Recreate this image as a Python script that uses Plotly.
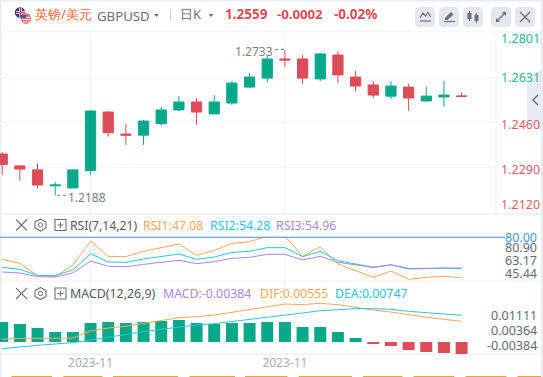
import plotly.graph_objects as go

W, H = 543, 377

dates = ["2023-10-25","2023-10-26","2023-10-27","2023-10-30","2023-10-31","2023-11-01","2023-11-02","2023-11-03","2023-11-06",
         "2023-11-07","2023-11-08","2023-11-09","2023-11-10","2023-11-13","2023-11-14","2023-11-15","2023-11-16","2023-11-17",
         "2023-11-20","2023-11-21","2023-11-22","2023-11-23","2023-11-24","2023-11-27","2023-11-28","2023-11-29","2023-11-30"]
opens  = [1.2342,1.2297,1.2282,1.2222,1.2214,1.2279,1.2500,1.2417,1.2413,1.2456,1.2508,1.2538,1.2493,1.2534,1.2594,1.2628,1.2700,1.2700,1.2625,1.2715,1.2632,1.2602,1.2560,1.2594,1.2542,1.2557,1.2561]
highs  = [1.2349,1.2300,1.2307,1.2236,1.2284,1.2508,1.2504,1.2455,1.2470,1.2519,1.2560,1.2553,1.2564,1.2617,1.2647,1.2715,1.2735,1.2715,1.2723,1.2730,1.2655,1.2617,1.2617,1.2606,1.2595,1.2617,1.2575]
lows   = [1.2263,1.2240,1.2213,1.2186,1.2214,1.2263,1.2407,1.2376,1.2376,1.2449,1.2504,1.2451,1.2493,1.2527,1.2590,1.2613,1.2670,1.2606,1.2617,1.2610,1.2579,1.2553,1.2549,1.2504,1.2538,1.2519,1.2557]
closes = [1.2302,1.2285,1.2225,1.2225,1.2282,1.2504,1.2422,1.2413,1.2466,1.2508,1.2538,1.2500,1.2538,1.2609,1.2632,1.2700,1.2696,1.2628,1.2719,1.2640,1.2598,1.2564,1.2598,1.2553,1.2560,1.2564,1.2559]

rsi1 = [61.95,58.71,48.72,47.91,57.36,76.80,64.38,64.11,68.43,71.67,74.37,65.19,69.24,74.91,76.26,80.85,80.85,64.38,72.21,58.17,52.50,47.37,52.50,45.75,47.37,48.18,47.08]
rsi2 = [55.47,53.85,48.99,48.99,53.31,66.54,59.79,59.52,62.22,64.11,66.27,61.95,63.84,67.62,68.43,71.40,71.40,64.11,68.43,60.87,58.17,55.47,57.63,54.12,54.39,54.93,54.28]
rsi3 = [51.69,50.88,47.91,47.64,50.88,60.60,56.28,56.01,57.90,59.52,61.14,58.44,60.06,62.76,63.57,66.00,66.00,61.41,64.38,59.52,57.63,55.47,57.36,54.66,54.66,54.93,54.96]

macd = [.0064,.00576,.00448,.0032,.0032,.00608,.0064,.00608,.0064,.00672,.00704,.00608,.00576,.00608,.00608,.0064,.0064,.0048,.0048,.0032,.00128,-.00064,-.00128,-.00256,-.0032,-.00352,-.00384]
dif  = [.00085,.00117,.00117,.00117,.00128,.00352,.00448,.00501,.00597,.00683,.00779,.00811,.00864,.0095,.01046,.01142,.01216,.01195,.01238,.01195,.01099,.01024,.0096,.00864,.0079,.00726,.00662]
dea  = [-.00213,-.00149,-.00107,-.00064,-.00021,.00064,.0016,.00256,.00331,.00405,.0048,.00544,.00587,.00651,.00726,.0079,.00864,.00928,.01003,.01046,.01067,.01067,.01046,.00982,.00939,.00896,.00854]

date_ticks = ["2023-11-01", "2023-11-16"]
date_tick_text = ["2023-11", "2023-11"]
price_grid = [1.2631, 1.2460, 1.2290]
price_labels = ["1.2801", "1.2631", "1.2460", "1.2290", "1.2120"]
rsi_labels = ["80.90", "63.17", "45.44"]
macd_labels = ["0.01111", "0.00364", "-0.00384"]

G, R = "#0aa88a", "#dc4d5a"
GRID = "#f3f4f8"
ICON = "#6b7080"
OR, CY, PU = "#f7a85e", "#2fc3dc", "#a788e8"
FONT = "Noto Sans, Open Sans, sans-serif"
XR = [-0.1245, 27.946]


def fx(x): return x / W
def fy(y): return 1 - y / H


fig = go.Figure()
fig.add_trace(go.Candlestick(x=dates, open=opens, high=highs, low=lows, close=closes, xaxis="x", yaxis="y",
                             whiskerwidth=0,
                             increasing=dict(line=dict(color=G, width=1), fillcolor=G),
                             decreasing=dict(line=dict(color=R, width=1), fillcolor=R)))
for vals, c in [(rsi1, OR), (rsi2, CY), (rsi3, PU)]:
    fig.add_trace(go.Scatter(x=dates, y=vals, mode="lines", line=dict(color=c, width=1), xaxis="x2", yaxis="y2"))
fig.add_trace(go.Bar(x=dates, y=macd, width=0.68, marker=dict(color=[G if v >= 0 else R for v in macd], line=dict(width=0)),
                     xaxis="x3", yaxis="y3"))
fig.add_trace(go.Scatter(x=dates, y=dif, mode="lines", line=dict(color=OR, width=1), xaxis="x3", yaxis="y3"))
fig.add_trace(go.Scatter(x=dates, y=dea, mode="lines", line=dict(color=CY, width=1), xaxis="x3", yaxis="y3"))

shapes = []


def rect(x0, y0, x1, y1, c):
    shapes.append(dict(type="rect", xref="paper", yref="paper", x0=fx(x0), x1=fx(x1), y0=fy(y0), y1=fy(y1),
                       fillcolor=c, line=dict(width=0), layer="below"))


def line(x0, y0, x1, y1, c, w=1, dash=None, layer="above"):
    shapes.append(dict(type="line", xref="paper", yref="paper", x0=fx(x0), x1=fx(x1), y0=fy(y0), y1=fy(y1),
                       line=dict(color=c, width=w, dash=dash or "solid"), layer=layer))


def path(pts, fill=None, lc=None, w=1, close=True, layer="above"):
    d = "M" + " L".join(f"{fx(x):.5f},{fy(y):.5f}" for x, y in pts) + (" Z" if close else "")
    shapes.append(dict(type="path", xref="paper", yref="paper", path=d, fillcolor=fill or "rgba(0,0,0,0)",
                       line=dict(color=lc or "rgba(0,0,0,0)", width=w), layer=layer))


def circle(cx, cy, r, fill):
    shapes.append(dict(type="circle", xref="paper", yref="paper", x0=fx(cx - r), x1=fx(cx + r), y0=fy(cy - r), y1=fy(cy + r),
                       fillcolor=fill, line=dict(width=0)))


def round_btn(x0, y0, x1, y1, r, c):
    p = (f"M{fx(x0+r):.5f},{fy(y0):.5f} L{fx(x1-r):.5f},{fy(y0):.5f} Q{fx(x1):.5f},{fy(y0):.5f} {fx(x1):.5f},{fy(y0+r):.5f} "
         f"L{fx(x1):.5f},{fy(y1-r):.5f} Q{fx(x1):.5f},{fy(y1):.5f} {fx(x1-r):.5f},{fy(y1):.5f} "
         f"L{fx(x0+r):.5f},{fy(y1):.5f} Q{fx(x0):.5f},{fy(y1):.5f} {fx(x0):.5f},{fy(y1-r):.5f} "
         f"L{fx(x0):.5f},{fy(y0+r):.5f} Q{fx(x0):.5f},{fy(y0):.5f} {fx(x0+r):.5f},{fy(y0):.5f} Z")
    shapes.append(dict(type="path", xref="paper", yref="paper", path=p, fillcolor=c, line=dict(width=0)))


# frame and separators
rect(0, 0, 1.5, H, "#e8ecf5")
rect(541, 0, W, H, "#e8ecf5")
rect(0, 0, W, 1.5, "#e8ecf5")
rect(0, 31, 541, 32.5, "#f3f5fa")
rect(0, 213.5, 541, 215, "#eef0f5")
rect(0, 280.5, 541, 281.5, "#eef0f5")
rect(0, 353.5, 541, 355, "#eef0f5")
rect(495.5, 32, 496.5, 214, "#f0f2f7")
# collapse tab
path([(527, 85), (541, 69), (541, 131), (527, 119)], fill="#e9eaf2", layer="below")
path([(538, 95), (533, 100), (538, 105)], lc=ICON, w=1.5, close=False)
# 80 level
shapes.append(dict(type="line", xref="paper", yref="y2", x0=0, x1=fx(505), y0=80, y1=80, line=dict(color="#4a90d9", width=1.3)))
# extreme markers
line(275, 49.5, 285, 49.5, "#7a7f8c", 1, "dot")
line(57, 195.3, 66, 195.3, "#7a7f8c", 1, "dot")
# bottom strip
for a, b in [(11.4, 52), (63.4, 102.5), (113, 178), (189.5, 235), (245, 287.5), (298.6, 352), (363, 402.5), (413.6, 454.4), (465.5, 506.4), (517.5, 541)]:
    rect(a, 376, b, 377, "#e0a83c")

# flags
circle(20, 12.5, 5.2, "#2f3f85")
line(16, 12.5, 25, 12.5, "#ffffff", 2.5)
line(20.5, 8, 20.5, 17.5, "#ffffff", 2.5)
line(16, 12.5, 25, 12.5, "#d8344a", 1.2)
line(20.5, 8, 20.5, 17.5, "#d8344a", 1.2)
circle(26, 18.5, 5.2, "#e7667a")
line(22, 17.2, 31, 17.2, "#ffffff", 0.8)
line(21.5, 19.5, 30.8, 19.5, "#ffffff", 0.8)
line(22.5, 21.8, 29.5, 21.8, "#ffffff", 0.8)
path([(21, 15), (26, 15), (26, 18), (21, 18)], fill="#4d5a96")

# header carets + divider
path([(154, 14), (159, 14), (156.5, 17)], fill=ICON)
path([(208.5, 14), (213.5, 14), (211, 17)], fill=ICON)
line(170.5, 9, 170.5, 21.5, "#cfd3dd", 1)

# icon buttons
for a in (415, 439, 463, 491, 515):
    round_btn(a, 7, a + 20, 27, 4, "#e4e7f0")
path([(420, 18), (423, 13), (425.5, 16), (428, 12.5), (430.5, 17)], lc=ICON, w=1.2, close=False)
line(420, 21, 431, 21, ICON, 1.2)
path([(445, 18), (451, 12), (453.5, 14.5), (447.5, 20), (445, 20)], fill=ICON)
line(444, 21.5, 455, 21.5, ICON, 1.2)
line(469.5, 11, 469.5, 21, ICON, 1)
path([(467.5, 13), (471.5, 13), (471.5, 19), (467.5, 19)], fill=ICON)
line(476.5, 13, 476.5, 23, ICON, 1)
path([(474.5, 15), (478.5, 15), (478.5, 21), (474.5, 21)], fill=ICON)
line(497, 21, 505, 13, ICON, 1.2)
path([(502, 12), (506, 12), (506, 16)], fill=ICON)
path([(496, 18), (496, 22), (500, 22)], fill=ICON)
line(520, 12, 530, 22, ICON, 1.2)
line(530, 12, 520, 22, ICON, 1.2)


# pane controls
def controls(y):
    line(16, y - 5.5, 27, y + 5.5, ICON, 1.1)
    line(27, y - 5.5, 16, y + 5.5, ICON, 1.1)
    path([(40.5, y - 6), (46, y - 3), (46, y + 3), (40.5, y + 6), (35, y + 3), (35, y - 3)], lc=ICON, w=1.1)
    shapes.append(dict(type="circle", xref="paper", yref="paper", x0=fx(38.3), x1=fx(42.7), y0=fy(y - 2.2), y1=fy(y + 2.2),
                       line=dict(color=ICON, width=1)))
    path([(55, y - 5.5), (66, y - 5.5), (66, y + 5.5), (55, y + 5.5)], lc=ICON, w=1.1)
    line(57.5, y, 63.5, y, ICON, 1)
    line(60.5, y - 3, 60.5, y + 3, ICON, 1)


controls(225)
controls(293.5)

ann = []


def T(x, y, s, c, size=12, anchor="left", bold=False):
    ann.append(dict(xref="paper", yref="paper", x=fx(x), y=fy(y), text=f"<b>{s}</b>" if bold else s, showarrow=False,
                    xanchor=anchor, yanchor="middle", align=anchor, font=dict(color=c, size=size, family=FONT), borderpad=0, borderwidth=0))


T(35, 14, "英镑/美元", "#f4693c", 13)
T(97, 15.5, "GBPUSD", ICON, 13.2)
T(180, 14, "日K", ICON, 13)
T(225, 14, "1.2559", R, 13.5, bold=True)
T(277, 14, "-0.0002", R, 13.2, bold=True)
T(334, 14, "-0.02%", R, 13.5, bold=True)
T(235, 51, "1.2733", "#7a7f8c", 12)
T(68, 197.7, "1.2188", "#7a7f8c", 12)
for s, y, c in zip(price_labels, [39, 78, 124.6, 169, 204], ["#26b89a", "#26b89a", "#e0606c", "#e0606c", "#e0606c"]):
    T(501, y, s, c, 12.5)
T(70, 225, "RSI(7,14,21)", "#555a68", 12.2)
T(143, 225, "RSI1:47.08", OR, 12.3)
T(210, 225, "RSI2:54.28", CY, 12.3)
T(276, 225, "RSI3:54.96", PU, 12.3)
T(537, 237.5, "80.00", "#3f9bf0", 12.5, "right")
for s, y in zip(rsi_labels, [247, 260.5, 273]):
    T(537, y, s, "#666c7a", 12.5, "right")
T(70, 293.5, "MACD(12,26,9)", "#555a68", 12.4)
T(163, 293.5, "MACD:-0.00384", PU, 12.3)
T(260, 293.5, "DIF:0.00555", OR, 12.3)
T(334.5, 293.5, "DEA:0.00747", CY, 12.3)
for s, y in zip(macd_labels, [315, 330.5, 345.5]):
    T(537, y, s, "#666c7a", 12.5, "right")

xbase = dict(type="category", categoryorder="array", categoryarray=dates, range=XR, domain=[0, 496 / W], showline=False, zeroline=False,
             tickmode="array", tickvals=date_ticks, ticktext=date_tick_text, showgrid=True, gridcolor=GRID, gridwidth=1, ticks="")
ybase = dict(side="right", showticklabels=False, zeroline=False, showline=False, ticks="")

fig.update_layout(
    width=W, height=H, margin=dict(l=0, r=0, t=0, b=0), paper_bgcolor="#ffffff", plot_bgcolor="rgba(0,0,0,0)",
    showlegend=False, hovermode=False, boxgap=0.42, boxgroupgap=0, barmode="overlay",
    font=dict(family=FONT),
    xaxis=dict(xbase, anchor="y", showticklabels=False, rangeslider=dict(visible=False)),
    xaxis2=dict(xbase, anchor="y2", showticklabels=False, matches="x"),
    xaxis3=dict(xbase, anchor="y3", showticklabels=True, matches="x", tickfont=dict(color="#a9adbb", size=12, family=FONT), ticklen=0),
    yaxis=dict(ybase, domain=[fy(214), fy(32)], range=[1.21157, 1.28018], tickmode="array", tickvals=price_grid, showgrid=True, gridcolor=GRID),
    yaxis2=dict(ybase, domain=[fy(281), fy(236.5)], range=[44.4, 80.45], showgrid=False),
    yaxis3=dict(ybase, domain=[fy(354), fy(281)], range=[-0.00384, 0.01952], showgrid=False),
    shapes=shapes, annotations=ann,
)
fig.write_html("out.html", config=dict(displayModeBar=False),
               post_script="document.body.style.margin='0';document.body.style.overflow='hidden';")
